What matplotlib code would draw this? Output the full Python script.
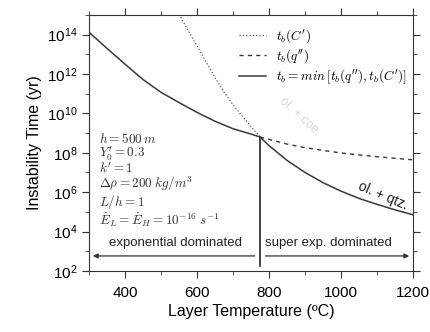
import numpy as np
import matplotlib
matplotlib.use("Agg")
import matplotlib.pyplot as plt
from matplotlib.ticker import FixedLocator, NullFormatter

plt.rcParams['font.family'] = ['Liberation Sans', 'DejaVu Sans']
plt.rcParams['mathtext.fontset'] = 'cm'

# Data (log10 of instability time, yr)
T_exp = [300, 350, 400, 450, 500, 550, 600, 650, 700, 750, 775]
logt_exp = [14.12, 13.30, 12.50, 11.72, 11.07, 10.55, 10.05, 9.60, 9.22, 8.95, 8.80]

T_C = [550, 575, 600, 625, 650, 675, 700, 725, 750, 775, 800, 850, 900, 950, 1000, 1050, 1100, 1150, 1200]
logt_C = [15.03, 14.22, 13.42, 12.62, 11.82, 11.08, 10.44, 9.87, 9.33, 8.80, 8.36, 7.61, 7.00, 6.48, 6.05, 5.68, 5.38, 5.10, 4.85]

T_q = [775, 800, 850, 900, 950, 1000, 1050, 1100, 1150, 1200]
logt_q = [8.80, 8.68, 8.44, 8.26, 8.12, 7.99, 7.89, 7.80, 7.72, 7.64]

T_switch = 775

fig = plt.figure(figsize=(4.31, 3.32), dpi=100)
ax = fig.add_axes([0.2065, 0.184, 0.752, 0.771])

lc = '#3a3a3a'
yC = 10 ** np.array(logt_C)
yq = 10 ** np.array(logt_q)
ye = 10 ** np.array(logt_exp)
Tc = np.array(T_C)

ax.plot(Tc[Tc <= T_switch], yC[Tc <= T_switch], ls=':', color='#555555', lw=0.9, label=r"$t_b(C')$")
ax.plot(T_q, yq, ls=(0, (3, 3)), color=lc, lw=1.0, label=r"$t_b(q'')$")
sol_T = list(T_exp) + [t for t in T_C if t > T_switch]
sol_y = list(ye) + list(yC[Tc > T_switch])
ax.plot(sol_T, sol_y, '-', color=lc, lw=1.1, label=r"$t_b = min\,[t_b(q''), t_b(C')]$")

ax.plot([T_switch, T_switch], [1.7e2, 10 ** 8.75], color='#222222', lw=1.2)

ax.annotate('', xy=(303, 10 ** 2.76), xytext=(768, 10 ** 2.76),
            arrowprops=dict(arrowstyle='-|>', color='#333333', lw=0.9, mutation_scale=7))
ax.annotate('', xy=(1197, 10 ** 2.76), xytext=(782, 10 ** 2.76),
            arrowprops=dict(arrowstyle='-|>', color='#333333', lw=0.9, mutation_scale=7))

ax.text(540, 10 ** 3.42, 'exponential dominated', ha='center', va='center', fontsize=9.5, color='#222222')
ax.text(965, 10 ** 3.42, 'super exp. dominated', ha='center', va='center', fontsize=9.5, color='#222222')

ax.text(1115, 10 ** 5.8, 'ol. + qtz.', ha='center', va='center', fontsize=10, rotation=-23, color='#222222')
ax.text(887, 10 ** 9.85, 'ol. + coe.', ha='center', va='center', fontsize=9, rotation=-42, color='#d8d8d8')

params = [r"$h = 500\,m$", r"$Y_0' = 0.3$", r"$k' = 1$", r"$\Delta\rho = 200\;kg/m^3$",
          r"$L/h = 1$", r"$\dot{E}_L = \dot{E}_H = 10^{-16}\;s^{-1}$"]
param_log = [8.72, 7.95, 7.18, 6.40, 5.52, 4.62]
for p, lg in zip(params, param_log):
    ax.text(328, 10 ** lg, p, ha='left', va='center', fontsize=9.5, color='#333333')

ax.set_yscale('log')
ax.set_xlim(300, 1200)
ax.set_ylim(1e2, 1e15)
ax.xaxis.set_major_locator(FixedLocator([400, 600, 800, 1000, 1200]))
ax.xaxis.set_minor_locator(FixedLocator([300, 500, 700, 900, 1100]))
ax.yaxis.set_major_locator(FixedLocator([10.0 ** k for k in range(2, 15, 2)]))
ax.yaxis.set_minor_locator(FixedLocator([10.0 ** k for k in range(3, 16, 2)]))
ax.yaxis.set_minor_formatter(NullFormatter())
ax.tick_params(which='both', direction='out', top=True, right=True, labelsize=11, color='#333333')
ax.tick_params(which='major', length=5)
ax.tick_params(which='minor', length=3)
ax.tick_params(axis='x', pad=6)
for s in ax.spines.values():
    s.set_color('#333333')

ax.set_xlabel('Layer Temperature (ºC)', fontsize=11.5, labelpad=3)
ax.set_ylabel('Instability Time (yr)', fontsize=11.5, labelpad=3)

leg = ax.legend(loc='upper right', frameon=False, fontsize=9.5, handlelength=2.0,
                borderaxespad=0.3, labelspacing=0.2, handletextpad=0.8,
                bbox_to_anchor=(1.01, 0.99))

fig.savefig('out.png', dpi=100)
